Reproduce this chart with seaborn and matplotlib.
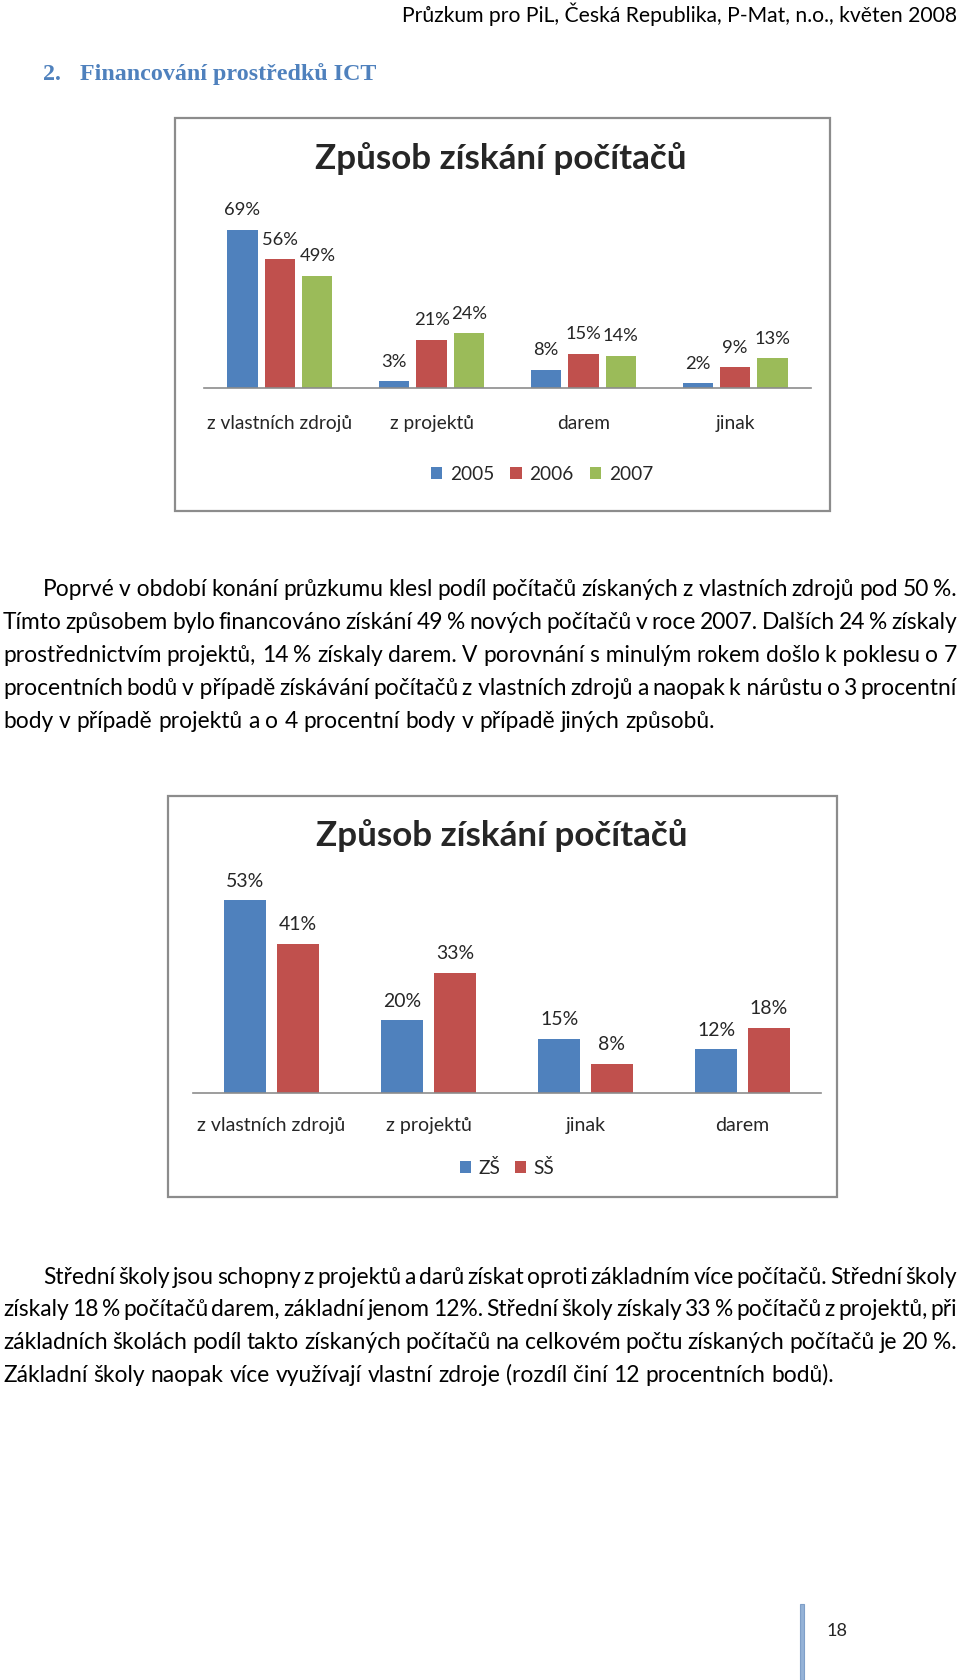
import matplotlib
matplotlib.use("Agg")
import matplotlib.pyplot as plt
from matplotlib.patches import Rectangle
import seaborn as sns
import pandas as pd

# ---------------- data ----------------
cats1 = ["z vlastních zdrojů", "z projektů", "darem", "jinak"]
years = ["2005", "2006", "2007"]
v2005 = [69, 3, 8, 2]
v2006 = [56, 21, 15, 9]
v2007 = [49, 24, 14, 13]

cats2 = ["z vlastních zdrojů", "z projektů", "jinak", "darem"]
schools = ["ZŠ", "SŠ"]
v_zs = [53, 20, 15, 12]
v_ss = [41, 33, 8, 18]

chart_title = "Způsob získání počítačů"
header = "Průzkum pro PiL, Česká Republika, P-Mat, n.o., květen 2008"
heading_num = "2."
heading = "Financování prostředků ICT"
NB = "\u00a0"
para1 = [
    f"Poprvé v{NB}období konání průzkumu klesl podíl počítačů získaných z{NB}vlastních zdrojů pod 50 %.",
    "Tímto způsobem bylo financováno získání 49 % nových počítačů v roce 2007. Dalších 24 % získaly",
    f"prostřednictvím projektů, 14 % získaly darem. V porovnání s{NB}minulým rokem došlo k{NB}poklesu o 7",
    f"procentních bodů v{NB}případě získávání počítačů z{NB}vlastních zdrojů a naopak k{NB}nárůstu o 3 procentní",
    "body v případě projektů a o 4 procentní body v případě jiných způsobů.",
]
para2 = [
    "Střední školy jsou schopny z projektů a darů získat oproti základním více počítačů. Střední školy",
    "získaly 18 % počítačů darem, základní jenom 12%. Střední školy získaly 33 % počítačů z projektů, při",
    "základních školách podíl takto získaných počítačů na celkovém počtu získaných počítačů je 20 %.",
    "Základní školy naopak více využívají vlastní zdroje (rozdíl činí 12 procentních bodů).",
]
page_no = "18"

pal3 = ["#4F81BD", "#C0504D", "#9BBB59"]
pal2 = ["#4F81BD", "#C0504D"]

# ---------------- setup ----------------
sns.set_style("white")
plt.rcParams["font.family"] = ["Lato", "DejaVu Sans"]
W, H = 960, 1680
fig = plt.figure(figsize=(9.6, 16.8), dpi=100)
fig.patch.set_facecolor("white")
renderer = fig.canvas.get_renderer()


def fx(x):
    return x / W


def fy(y):
    return 1 - y / H


def text_width(s, size, **kw):
    t = fig.text(0, 0, s, fontsize=size, **kw)
    w = t.get_window_extent(renderer).width
    t.remove()
    return w


def fit_size(s, width, **kw):
    return 20.0 * width / text_width(s, 20.0, **kw)


# ---------------- header & heading ----------------
hs = fit_size(header, 558)
fig.text(fx(957), fy(14), header, fontsize=hs, ha="right", va="center", color="black")

hfont = dict(family=["Liberation Serif", "DejaVu Serif"], weight="bold")
hsz = fit_size(heading, 295, **hfont)
fig.text(fx(43), fy(74), heading_num, fontsize=hsz, ha="left", va="center", color="#4F81BD", **hfont)
fig.text(fx(80), fy(74), heading, fontsize=hsz, ha="left", va="center", color="#4F81BD", **hfont)

# ---------------- paragraphs ----------------
psize = (fit_size(para1[-1], 729) + fit_size(para2[-1], 806)) / 2
em_px = psize * 100 / 72


def draw_line(line, y, x0, x1, size, justify=True):
    toks = line.split(" ")
    widths = [text_width(t, size) for t in toks]
    if justify and len(toks) > 1:
        gap = (x1 - x0 - sum(widths)) / (len(toks) - 1)
    else:
        gap = text_width("a a", size) - text_width("aa", size)
    x = x0
    yb = y + 0.34 * em_px
    for t, w in zip(toks, widths):
        fig.text(fx(x), fy(yb), t, fontsize=size, ha="left", va="baseline", color="black")
        x += w + gap


p1_y = [588, 621, 654, 687, 720]
for i, (ln, y) in enumerate(zip(para1, p1_y)):
    draw_line(ln, y, 43 if i == 0 else 3, 957, psize, justify=(i < len(para1) - 1))

p2_y = [1276, 1308, 1341, 1374]
for i, (ln, y) in enumerate(zip(para2, p2_y)):
    draw_line(ln, y, 43 if i == 0 else 3, 957, psize, justify=(i < len(para2) - 1))

# ---------------- charts ----------------
frame_kw = dict(facecolor="white", edgecolor="#8c8c8c", linewidth=1.6, zorder=-5)
fig.add_artist(Rectangle((fx(175), fy(511)), (830 - 175) / W, (511 - 118) / H,
                         transform=fig.transFigure, **frame_kw))
fig.add_artist(Rectangle((fx(168), fy(1197)), (837 - 168) / W, (1197 - 796) / H,
                         transform=fig.transFigure, **frame_kw))

tsize = fit_size(chart_title, 372, weight="bold")


def chart(ax, cats, groups, values, palette, ymax, width, gap,
          cat_w, lab_w, leg_w, leg_txt, leg_xy, title_xy, cat_off, colsp):
    df = pd.DataFrame({
        "cat": [c for vals in values for c in cats],
        "grp": [g for g, vals in zip(groups, values) for _ in vals],
        "val": [v for vals in values for v in vals],
    })
    sns.barplot(data=df, x="cat", y="val", hue="grp", order=cats, hue_order=groups,
                palette=palette, saturation=1, width=width, gap=gap,
                linewidth=0, ax=ax, errorbar=None)
    ax.set_ylim(0, ymax)
    ax.set_xlim(-0.5, len(cats) - 0.5)
    ax.patch.set_alpha(0)
    for s in ["top", "right", "left"]:
        ax.spines[s].set_visible(False)
    ax.spines["bottom"].set_color("#8c8c8c")
    ax.spines["bottom"].set_linewidth(1.2)
    ax.set_yticks([])
    ax.set_xlabel("")
    ax.set_ylabel("")
    csize = fit_size(cats[0], cat_w)
    h = csize * 100 / 72 * 1.2
    ax.tick_params(axis="x", length=0, labelsize=csize,
                   pad=(cat_off - h / 2) * 72 / 100)
    lsize = fit_size("69%", lab_w)
    lh = lsize * 100 / 72 * 1.2
    for cont in ax.containers:
        ax.bar_label(cont, fmt="%g%%", fontsize=lsize, padding=(21 - lh / 2) * 72 / 100 + 1)
    handles, labels = ax.get_legend_handles_labels()
    if ax.get_legend() is not None:
        ax.get_legend().remove()
    gsize = fit_size(leg_txt, leg_w)
    fig.legend(handles, labels, loc="center", bbox_to_anchor=(fx(leg_xy[0]), fy(leg_xy[1])),
               ncol=len(groups), frameon=False, fontsize=gsize, handlelength=0.6,
               handleheight=0.6, handletextpad=0.4, columnspacing=colsp)
    fig.text(fx(title_xy[0]), fy(title_xy[1]), chart_title, fontsize=tsize,
             weight="bold", ha="center", va="center")


ax1 = fig.add_axes([fx(204), fy(388), (811 - 204) / W, (388 - 204.4) / H])
chart(ax1, cats1, years, [v2005, v2006, v2007], pal3, 80, 0.74, 0.19,
      145, 36, 44, "2005", (542, 474), (501, 159), 38, 0.85)

ax2 = fig.add_axes([fx(193), fy(1093), (821 - 193) / W, 218 / H])
chart(ax2, cats2, schools, [v_zs, v_ss], pal2, 60, 0.67, 0.2,
      148, 38, 44, "2005", (507, 1168), (502, 836), 36, 0.75)

# ---------------- page number ----------------
fig.add_artist(Rectangle((fx(800), fy(1680)), 4 / W, (1680 - 1604) / H,
                         transform=fig.transFigure, facecolor="#95B3D7",
                         edgecolor="#7F9FC8", linewidth=0.8))
fig.text(fx(837), fy(1631), page_no, fontsize=fit_size(page_no, 21), ha="center", va="center")

fig.savefig("out.png", dpi=100, facecolor="white")
